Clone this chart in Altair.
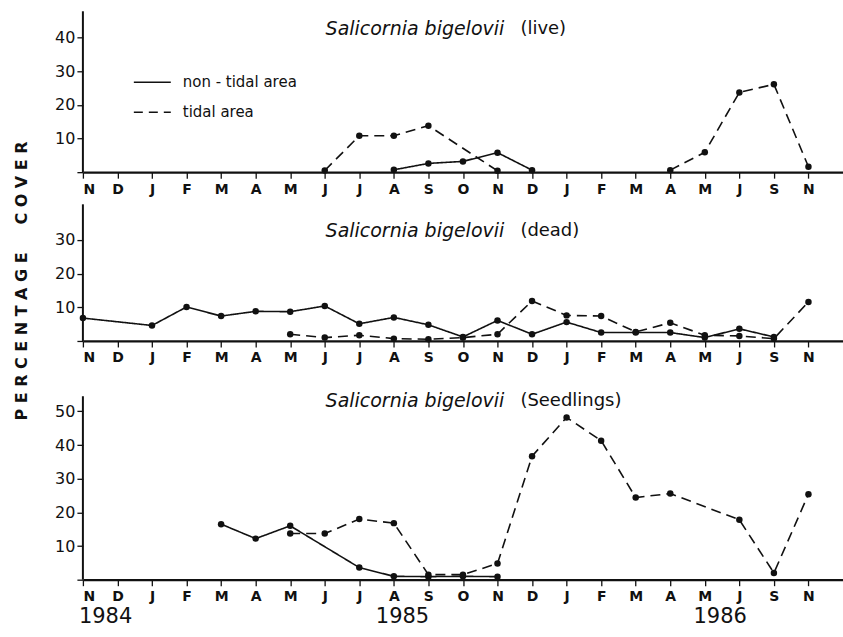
import altair as alt
import pandas as pd

# Sampling months along the shared x axis (Nov 1984 .. Nov 1986)
month_labels = ["N", "D", "J", "F", "M", "A", "M", "J", "J", "A", "S",
                "O", "N", "D", "J", "F", "M", "A", "M", "J", "S", "N"]

# --- live cover ---
live_nontidal_idx = [9, 10, 11, 12, 13]
live_nontidal = [0.7, 2.6, 3.2, 5.8, 0.6]
live_tidal_idx = [7, 8, 9, 10, 12, 17, 18, 19, 20, 21]
live_tidal = [0.5, 10.8, 10.8, 13.8, 0.4, 0.6, 5.9, 23.7, 26.1, 1.6]
live_tidal_run = [1, 1, 1, 1, 1, 2, 2, 2, 2, 2]

# --- dead cover ---
dead_nontidal_idx = [0, 2, 3, 4, 5, 6, 7, 8, 9, 10, 11, 12, 13, 14, 15, 16, 17, 18, 19, 20]
dead_nontidal = [6.8, 4.6, 10.1, 7.4, 8.8, 8.7, 10.4, 5.1, 7.0, 4.8,
                 1.2, 6.1, 2.0, 5.6, 2.5, 2.5, 2.5, 1.0, 3.6, 1.2]
dead_tidal_idx = [6, 7, 8, 9, 10, 11, 12, 13, 14, 15, 16, 17, 18, 19, 20, 21]
dead_tidal = [2.0, 1.0, 1.7, 0.7, 0.5, 1.0, 2.0, 11.9, 7.6, 7.4,
              2.7, 5.4, 1.7, 1.5, 0.7, 11.6]

# --- seedlings ---
seed_nontidal_idx = [4, 5, 6, 8, 9, 10, 11, 12]
seed_nontidal = [16.5, 12.2, 16.0, 3.6, 1.0, 0.9, 1.0, 0.9]
seed_tidal_idx = [6, 7, 8, 9, 10, 11, 12, 13, 14, 15, 16, 17, 19, 20, 21]
seed_tidal = [13.7, 13.7, 18.0, 16.8, 1.5, 1.5, 4.8, 36.7, 48.2, 41.3,
              24.4, 25.6, 17.8, 2.0, 25.4]

AREAS = ["non-tidal area", "tidal area"]
FONT = "DejaVu Sans"
PX_PER_UNIT = 3.37
PLOT_W = 761
NBSP = "\u00a0"


def frame(nt_idx, nt_val, t_idx, t_val, t_run=None):
    rows = []
    for i, v in zip(nt_idx, nt_val):
        rows.append({"i": i, "v": v, "area": AREAS[0], "run": "a1"})
    runs = t_run if t_run is not None else [1] * len(t_idx)
    for i, v, r in zip(t_idx, t_val, runs):
        rows.append({"i": i, "v": v, "area": AREAS[1], "run": f"b{r}"})
    return pd.DataFrame(rows)


def one_row():
    return pd.DataFrame({"k": [0]})


def label_text(text, x, y, size=17, italic=False, align="left", angle=0, weight="normal"):
    kw = dict(align=align, baseline="middle", font=FONT, fontSize=size,
              color="#111111", fontWeight=weight)
    if italic:
        kw["fontStyle"] = "italic"
    if angle:
        kw["angle"] = angle
    return alt.Chart(one_row()).mark_text(**kw).encode(
        x=alt.value(x), y=alt.value(y), text=alt.value(text)
    )


def spaced(word):
    return " ".join(word)


def panel(df, height, axis_top, ticks, title_y, suffix, extra=()):
    ymax = height / PX_PER_UNIT
    xs = alt.Scale(domain=[0, 22], nice=False)
    ys = alt.Scale(domain=[0, ymax], nice=False, zero=True)

    x_axis = alt.Axis(
        values=list(range(len(month_labels))),
        labelExpr="[" + ",".join(f"'{m}'" for m in month_labels) + "][datum.value]",
        title=None, grid=False, tickSize=6, tickColor="#111111", tickWidth=1.3,
        domainColor="#111111", domainWidth=2.2, labelFont=FONT, labelFontSize=14,
        labelFontWeight="bold", labelColor="#111111", labelPadding=4,
    )
    y_axis = alt.Axis(
        values=ticks, labelExpr="datum.value == 0 ? '' : datum.label",
        title=None, grid=False, domain=False, tickSize=6, tickColor="#111111",
        tickWidth=1.3, labelFont=FONT, labelFontSize=16, labelColor="#111111",
        labelPadding=2,
    )

    base = alt.Chart(df).encode(
        x=alt.X("i:Q", scale=xs, axis=x_axis),
        y=alt.Y("v:Q", scale=ys, axis=y_axis),
    )
    lines = base.mark_line(color="#111111", strokeWidth=1.6).encode(
        strokeDash=alt.StrokeDash(
            "area:N", legend=None,
            scale=alt.Scale(domain=AREAS, range=[[1, 0], [10, 6]]),
        ),
        detail="run:N",
    )
    dots = base.mark_circle(size=42, color="#111111", opacity=1)

    # vertical axis line, drawn only up to its own top value
    y_line = alt.Chart(one_row()).mark_rule(color="#111111", strokeWidth=2).encode(
        x=alt.value(0), y=alt.Y(datum=0, scale=ys), y2=alt.Y2(datum=axis_top)
    )

    title_a = label_text("Salicornia bigelovii", 243, title_y, size=19, italic=True)
    title_b = label_text(suffix, 438, title_y, size=18)

    layers = [y_line, lines, dots, title_a, title_b] + list(extra)
    return alt.layer(*layers).properties(width=PLOT_W, height=height)


# legend drawn inside the top panel
legend_solid = alt.Chart(one_row()).mark_rule(color="#111111", strokeWidth=1.6).encode(
    x=alt.value(51), x2=alt.value(88), y=alt.value(71)
)
legend_dash = alt.Chart(one_row()).mark_rule(
    color="#111111", strokeWidth=1.6, strokeDash=[9, 6]
).encode(x=alt.value(51), x2=alt.value(88), y=alt.value(101))
legend_t1 = label_text("non - tidal area", 100, 71, size=15)
legend_t2 = label_text("tidal area", 100, 101, size=15)

top = panel(
    frame(live_nontidal_idx, live_nontidal, live_tidal_idx, live_tidal, live_tidal_run),
    height=161, axis_top=47.8, ticks=[0, 10, 20, 30, 40], title_y=18, suffix="(live)",
    extra=[legend_solid, legend_dash, legend_t1, legend_t2],
)

y_title_text = spaced("PERCENTAGE") + NBSP * 5 + spaced("COVER")
y_title = label_text(y_title_text, -61, 77, size=16, align="center", angle=270, weight="bold")
middle = panel(
    frame(dead_nontidal_idx, dead_nontidal, dead_tidal_idx, dead_tidal),
    height=137, axis_top=40.6, ticks=[0, 10, 20, 30], title_y=27, suffix="(dead)",
    extra=[y_title],
)

year_1984 = label_text("1984", -4, 244, size=21)
year_1985 = label_text("1985", 320, 244, size=21, align="center")
year_1986 = label_text("1986", 638, 244, size=21, align="center")
bottom = panel(
    frame(seed_nontidal_idx, seed_nontidal, seed_tidal_idx, seed_tidal),
    height=207, axis_top=54.5, ticks=[0, 10, 20, 30, 40, 50], title_y=28,
    suffix="(Seedlings)", extra=[year_1984, year_1985, year_1986],
)

chart = (
    alt.vconcat(top, middle, bottom, spacing=32, bounds="flush")
    .configure(padding={"left": 13, "top": 9, "right": 0, "bottom": 0}, background="white")
    .configure_view(stroke=None)
)

chart.save("out.html", embed_options={"renderer": "svg", "actions": False})
